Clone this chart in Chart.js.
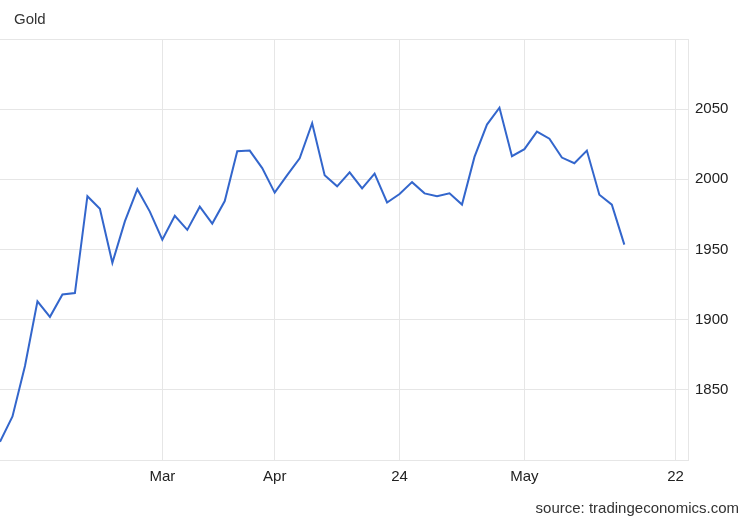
<!DOCTYPE html>
<html>
<head>
<meta charset="utf-8">
<script src="https://cdn.jsdelivr.net/npm/chart.js@4/dist/chart.umd.min.js"></script>
<style>
  html, body { margin: 0; padding: 0; background: #fff; }
  #wrap { position: relative; width: 750px; height: 520px; font-family: "Liberation Sans", Arial, sans-serif; }
  #title { position: absolute; left: 14px; top: 10px; font-size: 15px; color: #333; line-height: 18px; }
  #source { position: absolute; right: 11px; top: 499px; font-size: 15px; color: #333; line-height: 18px; }
  canvas { position: absolute; left: 0; top: 0; }
</style>
</head>
<body>
<div id="wrap">
  <canvas id="c" width="750" height="520"></canvas>
  <div id="title">Gold</div>
  <div id="source">source: tradingeconomics.com</div>
</div>
<script>
// Gold price, one value per observation (index 0..50)
const goldPrices = [
  1813, 1831, 1867, 1913, 1902, 1918, 1919, 1988, 1979, 1940.5,
  1970, 1993, 1977, 1957, 1974, 1964, 1980.5, 1968.5, 1984.5, 2020,
  2020.5, 2008, 1990.5, 2003, 2015, 2040, 2003, 1995, 2005, 1993.5,
  2004, 1983.5, 1989.5, 1998, 1990, 1988, 1990, 1982, 2016, 2039,
  2051, 2016.5, 2021.5, 2034, 2029, 2015.5, 2011.5, 2020.5, 1989, 1982,
  1953.5
];
// x-axis tick positions (observation index) and their labels
const xTickValues = [13, 22, 32, 42, 54.1];
const xTickLabels = ["Mar", "Apr", "24", "May", "22"];
const xMax = 55.1;
// y-axis range and visible tick labels
const yMin = 1800, yMax = 2100, yStep = 50;
const yTickLabels = [1850, 1900, 1950, 2000, 2050];

const points = goldPrices.map((v, i) => ({ x: i, y: v }));
const gridColor = '#e6e6e6';
const textColor = '#222';
const fontFamily = '"Liberation Sans", Arial, sans-serif';

new Chart(document.getElementById('c'), {
  type: 'line',
  data: {
    datasets: [{
      label: 'Gold',
      data: points,
      borderColor: '#3366cc',
      borderWidth: 2,
      pointRadius: 0,
      tension: 0,
      fill: false
    }]
  },
  options: {
    responsive: false,
    animation: false,
    devicePixelRatio: 1,
    layout: { padding: { top: 39, left: 0, right: 0, bottom: 0 } },
    plugins: { legend: { display: false }, tooltip: { enabled: false } },
    scales: {
      x: {
        type: 'linear',
        min: 0,
        max: xMax,
        afterBuildTicks: (scale) => { scale.ticks = xTickValues.map(v => ({ value: v })); },
        afterFit: (scale) => { scale.height = 60; },
        ticks: {
          autoSkip: false,
          maxRotation: 0,
          padding: 8,
          color: textColor,
          font: { family: fontFamily, size: 15 },
          callback: (value, index) => xTickLabels[index]
        },
        grid: { color: gridColor, drawTicks: false, lineWidth: 1 },
        border: { display: true, color: gridColor }
      },
      y: {
        position: 'right',
        min: yMin,
        max: yMax,
        afterFit: (scale) => { scale.width = 62; },
        ticks: {
          stepSize: yStep,
          padding: 7,
          color: textColor,
          font: { family: fontFamily, size: 15 },
          callback: (value) => yTickLabels.includes(value) ? String(value) : ''
        },
        grid: { color: gridColor, drawTicks: false, lineWidth: 1 },
        border: { display: true, color: gridColor }
      }
    }
  }
});
</script>
</body>
</html>
